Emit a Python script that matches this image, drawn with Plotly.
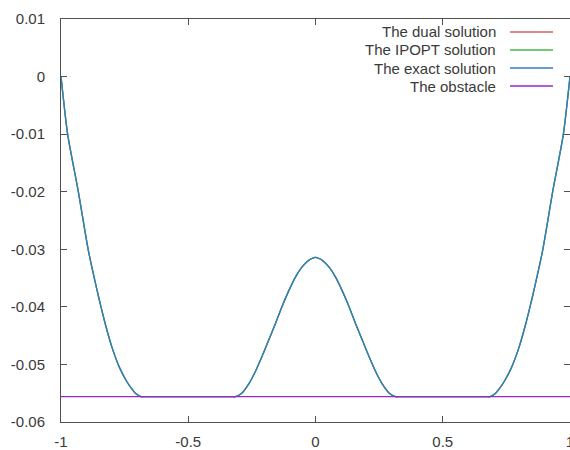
import plotly.graph_objects as go

# ---- data ----
x_sol = [-1.000, -0.974, -0.932, -0.893, -0.860, -0.844, -0.827, -0.800, -0.778, -0.762, -0.745, -0.729, -0.705, -0.686,
         -0.670, -0.500, -0.330,
         -0.314, -0.290, -0.264, -0.238, -0.212, -0.185, -0.160, -0.133, -0.107, -0.081, -0.055, -0.029, -0.014,
         0.000,
         0.014, 0.029, 0.055, 0.081, 0.107, 0.133, 0.160, 0.185, 0.212, 0.238, 0.264, 0.290, 0.314,
         0.330, 0.500, 0.670,
         0.686, 0.705, 0.729, 0.745, 0.762, 0.778, 0.800, 0.827, 0.844, 0.860, 0.893, 0.932, 0.974, 1.000]
y_exact = [0.0000, -0.0100, -0.0200, -0.0301, -0.0368, -0.0398, -0.0428, -0.0470, -0.0497, -0.0513, -0.0527, -0.0538, -0.0551, -0.0556,
           -0.0556, -0.0556, -0.0556,
           -0.0556, -0.0550, -0.0535, -0.0514, -0.0488, -0.0459, -0.0432, -0.0401, -0.0374, -0.0350, -0.0332, -0.0320, -0.0316,
           -0.0314,
           -0.0316, -0.0320, -0.0332, -0.0350, -0.0374, -0.0401, -0.0432, -0.0459, -0.0488, -0.0514, -0.0535, -0.0550, -0.0556,
           -0.0556, -0.0556, -0.0556,
           -0.0556, -0.0551, -0.0538, -0.0527, -0.0513, -0.0497, -0.0470, -0.0428, -0.0398, -0.0368, -0.0301, -0.0200, -0.0100, 0.0000]
y_dual = list(y_exact)
y_ipopt = list(y_exact)
x_obstacle = [-1.0, 1.0]
y_obstacle = [-0.0556, -0.0556]

series_names = ["The dual solution", "The IPOPT solution", "The exact solution", "The obstacle"]
series_colors = ["rgb(222,95,95)", "rgb(70,185,70)", "rgb(45,125,200)", "rgb(150,40,200)"]

x_ticks = [-1, -0.5, 0, 0.5, 1]
x_tick_text = ["-1", "-0.5", "0", "0.5", "1"]
y_ticks = [0.01, 0, -0.01, -0.02, -0.03, -0.04, -0.05, -0.06]
y_tick_text = ["0.01", "0", "-0.01", "-0.02", "-0.03", "-0.04", "-0.05", "-0.06"]

FONT = "Liberation Sans, Arial, sans-serif"
TXT = "#3a3a3a"
AX = "#505050"

fig = go.Figure()
sol_ys = [y_dual, y_ipopt, y_exact]
for name, col, ys in zip(series_names[:3], series_colors[:3], sol_ys):
    fig.add_trace(go.Scatter(x=x_sol, y=ys, mode="lines", name=name,
                             line=dict(color=col, width=1.3, shape="spline", smoothing=0.6),
                             showlegend=False))
fig.add_trace(go.Scatter(x=x_obstacle, y=y_obstacle, mode="lines", name=series_names[3],
                         line=dict(color=series_colors[3], width=1.2), showlegend=False))
# invisible trace for right-side ticks
fig.add_trace(go.Scatter(x=[None], y=[None], yaxis="y2", showlegend=False))

# gnuplot-style legend: text right-aligned, sample line to its right
W, H = 570, 450
ml, mr, mt, mb = 61, 0, 19, 28
pw, ph = W - ml - mr, H - mt - mb
def px_x(p): return (p - ml) / pw
def px_y(p): return 1 - (p - mt) / ph
anns, shapes = [], []
for i, (name, col) in enumerate(zip(series_names, series_colors)):
    yy = 32 + 18 * i
    anns.append(dict(x=px_x(498), y=px_y(yy), xref="paper", yref="paper", text=name,
                     showarrow=False, xanchor="right", yanchor="middle",
                     font=dict(family=FONT, size=15, color=TXT)))
    shapes.append(dict(type="line", xref="paper", yref="paper", x0=px_x(510), x1=px_x(553),
                       y0=px_y(yy), y1=px_y(yy), line=dict(color=col, width=1.3)))

fig.update_layout(
    width=W, height=H, margin=dict(l=ml, r=mr, t=mt, b=mb, autoexpand=False),
    paper_bgcolor="white", plot_bgcolor="white",
    font=dict(family=FONT, size=15, color=TXT),
    showlegend=False,
    annotations=anns, shapes=shapes,
    xaxis=dict(range=[-1, 1], tickvals=x_ticks, ticktext=x_tick_text, ticks="inside",
               ticklen=6, tickcolor=AX, showline=True, linecolor=AX, linewidth=1,
               mirror="ticks", showgrid=False, zeroline=False, ticklabelstandoff=6,
               ticklabeloverflow="allow", automargin=False),
    yaxis=dict(range=[-0.06, 0.01], tickvals=y_ticks, ticktext=y_tick_text, ticks="inside",
               ticklen=6, tickcolor=AX, showline=True, linecolor=AX, linewidth=1,
               mirror=False, showgrid=False, zeroline=False, ticklabelstandoff=12,
               automargin=False),
    yaxis2=dict(range=[-0.06, 0.01], overlaying="y", side="right", tickvals=y_ticks,
                showticklabels=False, ticks="inside", ticklen=6, tickcolor=AX,
                showline=False, showgrid=False, zeroline=False, automargin=False),
)
fig.write_html("out.html", config={"displayModeBar": False},
               post_script="document.body.style.margin='0';document.body.style.overflow='hidden';")
